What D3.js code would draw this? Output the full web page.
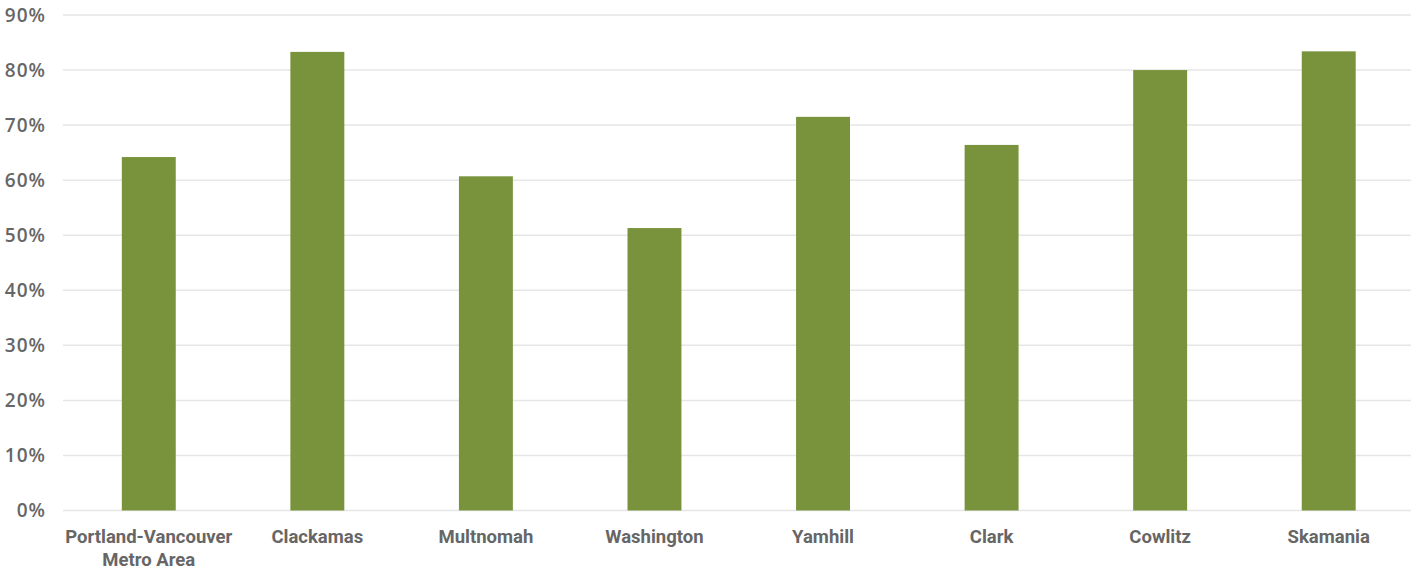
<!DOCTYPE html>
<html><head><meta charset="utf-8">
<script src="https://cdn.jsdelivr.net/npm/d3@7"></script>
<style>body{margin:0;background:#fff;} svg{display:block;}</style>
</head><body>
<svg id="c" width="1411" height="570"></svg>
<script>
const categories = [["Portland-Vancouver","Metro Area"],["Clackamas"],["Multnomah"],["Washington"],["Yamhill"],["Clark"],["Cowlitz"],["Skamania"]];
const values = [64.2, 83.3, 60.7, 51.3, 71.5, 66.4, 80.0, 83.4];
const yTicks = [0,10,20,30,40,50,60,70,80,90];

(function(){
const svg = d3.select("#c");
const mLeft = 64.5, mRight = 1413, mTop = 15, mBottom = 510.5;
const x = d3.scaleBand().domain(d3.range(categories.length)).range([mLeft, mRight]).paddingInner(0.68).paddingOuter(0.34);
const y = d3.scaleLinear().domain([0, 90]).range([mBottom, mTop]);

svg.append("g").selectAll("line").data(yTicks).join("line")
  .attr("x1", 63).attr("x2", 1411)
  .attr("y1", d => y(d)).attr("y2", d => y(d))
  .attr("stroke", "#e6e6e6").attr("stroke-width", 1.5);

svg.append("g").selectAll("text").data(yTicks).join("text")
  .attr("x", 46).attr("y", d => y(d)).attr("dy", "0.36em")
  .attr("text-anchor", "end")
  .attr("font-family", "'Open Sans', sans-serif").attr("font-weight", 600)
  .attr("font-size", 19).attr("letter-spacing", 1).attr("fill", "#666")
  .text(d => d + "%");

svg.append("g").selectAll("rect").data(values).join("rect")
  .attr("x", (d,i) => x(i)).attr("width", x.bandwidth())
  .attr("y", d => y(d)).attr("height", d => y(0) - y(d))
  .attr("fill", "#78933c");

const xl = svg.append("g").selectAll("text").data(categories).join("text")
  .attr("x", (d,i) => x(i) + x.bandwidth()/2).attr("y", 543)
  .attr("text-anchor", "middle")
  .attr("font-family", "Roboto, sans-serif").attr("font-weight", 700)
  .attr("font-size", 18.5).attr("fill", "#666");
xl.selectAll("tspan").data(d => d).join("tspan")
  .attr("x", function(){ return this.parentNode.getAttribute("x"); })
  .attr("dy", (d,i) => i === 0 ? 0 : 22.5)
  .text(d => d);
})();
</script>
</body></html>
